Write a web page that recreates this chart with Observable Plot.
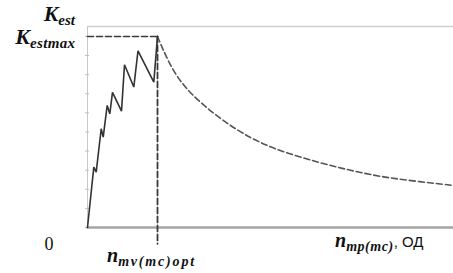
<!DOCTYPE html>
<html>
<head>
<meta charset="utf-8">
<script src="https://cdn.jsdelivr.net/npm/d3@7"></script>
<script src="https://cdn.jsdelivr.net/npm/@observablehq/plot@0.6"></script>
<style>
html, body { margin: 0; padding: 0; background: #fff; }
</style>
</head>
<body>
<div id="chart"></div>
<script>
// Rising sawtooth (training phase) — x in relative units, y = K_est
const sawX = [0, 6.3, 8.7, 13.7, 15.7, 19.7, 22.3, 25, 34, 37, 46.3, 50.5, 66.3, 70];
const sawY = [0, 3.16, 2.90, 5.17, 4.73, 6.39, 5.95, 7.07, 6.09, 8.52, 7.35, 9.25, 7.61, 10];
// Decaying dashed curve after the optimum
const decX = [70, 80, 96, 130, 163, 196, 230, 263, 296, 330, 366];
const decY = [10, 8.74, 7.3, 5.77, 4.64, 3.94, 3.42, 2.98, 2.63, 2.41, 2.20];
// Key values
const nOpt = 70;
const kMax = 10;
const xMax = 366;
const yTop = 10.52;
const yTicks = [0, 1, 2, 3, 4, 5, 6, 7, 8, 9, 10];

const saw = sawX.map((x, i) => ({x, y: sawY[i]}));
const dec = decX.map((x, i) => ({x, y: decY[i]}));
const baseLine = [{x: 0, y: 0}, {x: xMax, y: 0}];

const plot = Plot.plot({
  width: 453,
  height: 273,
  marginLeft: 87,
  marginRight: 0,
  marginTop: 26,
  marginBottom: 46,
  x: {type: "linear", domain: [0, xMax], axis: null},
  y: {type: "linear", domain: [0, yTop], axis: null},
  style: {background: "#fff", overflow: "visible"},
  marks: [
    Plot.ruleX([0], {stroke: "#c8c8c8", strokeWidth: 1}),
    Plot.ruleY([yTop], {stroke: "#d0d0d0", strokeWidth: 1.5}),
    Plot.axisY(yTicks, {anchor: "left", label: null, tickSize: 4, dx: 2, stroke: "#bdbdbd", strokeWidth: 1, tickFormat: () => ""}),
    Plot.line(baseLine, {x: "x", y: "y", stroke: "#a4a4a4", strokeWidth: 2.5, strokeDasharray: "1.5,1"}),
    Plot.line([{x: 0, y: kMax}, {x: nOpt, y: kMax}], {x: "x", y: "y", stroke: "#3a3a3a", strokeWidth: 1.6, strokeDasharray: "6,3"}),
    Plot.line([{x: nOpt, y: kMax}, {x: nOpt, y: -0.85}], {x: "x", y: "y", stroke: "#3a3a3a", strokeWidth: 1.8, strokeDasharray: "6,3", clip: false}),
    Plot.line(dec, {x: "x", y: "y", curve: "basis", stroke: "#555", strokeWidth: 1.6, strokeDasharray: "6,3"}),
    Plot.line(saw, {x: "x", y: "y", stroke: "#333", strokeWidth: 1.6, strokeLinejoin: "miter"})
  ]
});

document.getElementById("chart").appendChild(plot);

const svg = d3.select(plot);
const sx = plot.scale("x"), sy = plot.scale("y");
const X = v => sx.apply(v), Y = v => sy.apply(v);
const serif = "'Liberation Serif', 'DejaVu Serif', serif";

function label(x, y, base, sub, baseSize, subSize, anchor, subLen) {
  const t = svg.append("text")
    .attr("x", x).attr("y", y)
    .attr("text-anchor", anchor || "start")
    .style("font-family", serif)
    .style("font-style", "italic")
    .style("font-weight", "bold")
    .attr("fill", "#111");
  t.append("tspan").style("font-size", baseSize + "px").text(base);
  const s = t.append("tspan").style("font-size", subSize + "px").attr("dy", 4).text(sub);
  if (subLen) s.attr("textLength", subLen).attr("lengthAdjust", "spacing");
  return t;
}

// Y labels
label(X(0) - 12, 21, "K", "est", 22, 15, "end");
label(X(0) - 12, 44, "K", "estmax", 22, 15, "end", 45);

// Origin
svg.append("text").attr("x", X(0) - 38).attr("y", Y(0) + 23)
  .attr("text-anchor", "middle").style("font-family", serif)
  .style("font-size", "18px").attr("fill", "#111").text("0");

// n opt label
label(X(nOpt) - 50, 262, "n", "mv(mc)opt", 20, 14, "start", 76);

// x-axis label
const xl = label(X(0) + 248, 247, "n", "mp(mc)", 20, 14, "start", 47);
xl.append("tspan").style("font-size", "15px").attr("dy", -4)
  .style("font-family", "'Liberation Sans', Arial, sans-serif")
  .style("font-style", "normal").style("font-weight", "normal").text(", ОД");
</script>
</body>
</html>
